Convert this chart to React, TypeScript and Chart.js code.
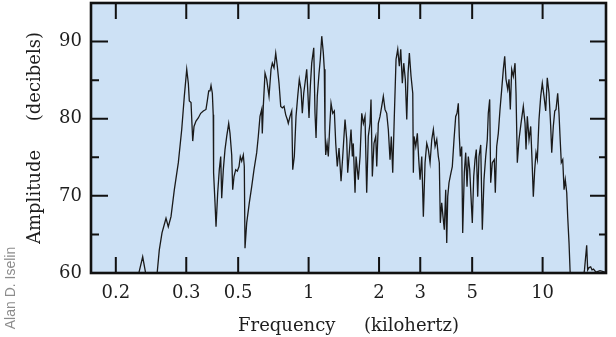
import { useEffect, useRef } from "react";
import { Chart, registerables } from "chart.js";

Chart.register(...registerables);

// Frequency (kHz) of each traced point
const frequencyKHz = [
  0.1848, 0.1954, 0.2039, 0.2142, 0.2228, 0.2301, 0.2363, 0.2458, 0.2514, 0.2582,
  0.2668, 0.2775, 0.2869, 0.2943, 0.3014, 0.3062, 0.3092, 0.3144, 0.3197, 0.3238,
  0.3302, 0.3377, 0.3458, 0.3548, 0.3643, 0.369, 0.3742, 0.379, 0.3828, 0.3878,
  0.3912, 0.3926, 0.3981, 0.4021, 0.4088, 0.4153, 0.4211, 0.4252, 0.432, 0.4392,
  0.4467, 0.4555, 0.4614, 0.4692, 0.4738, 0.4799, 0.4881, 0.4958, 0.5042, 0.5106,
  0.5177, 0.5259, 0.5311, 0.5348, 0.5438, 0.5579, 0.5712, 0.5843, 0.6, 0.6095,
  0.6198, 0.6303, 0.634, 0.6403, 0.6512, 0.6621, 0.6774, 0.6908, 0.6998, 0.7115,
  0.7236, 0.735, 0.7474, 0.7601, 0.7721, 0.7852, 0.7984, 0.811, 0.8189, 0.8328,
  0.8469, 0.8553, 0.8688, 0.8835, 0.8983, 0.9126, 0.9279, 0.9399, 0.953, 0.9652,
  0.9815, 0.9912, 1.004, 1.017, 1.031, 1.052, 1.065, 1.076, 1.089, 1.108,
  1.122, 1.138, 1.156, 1.167, 1.175, 1.183, 1.199, 1.214, 1.231, 1.247,
  1.268, 1.288, 1.306, 1.326, 1.349, 1.376, 1.399, 1.431, 1.455, 1.469,
  1.488, 1.518, 1.538, 1.552, 1.579, 1.595, 1.615, 1.631, 1.659, 1.687,
  1.714, 1.742, 1.771, 1.799, 1.83, 1.848, 1.872, 1.903, 1.936, 1.955,
  1.986, 2.019, 2.053, 2.086, 2.121, 2.157, 2.191, 2.228, 2.257, 2.288,
  2.324, 2.364, 2.404, 2.442, 2.476, 2.515, 2.55, 2.59, 2.627, 2.661,
  2.695, 2.74, 2.787, 2.803, 2.822, 2.87, 2.915, 2.956, 2.994, 3.045,
  3.093, 3.145, 3.198, 3.249, 3.304, 3.36, 3.413, 3.471, 3.529, 3.584,
  3.619, 3.655, 3.705, 3.753, 3.801, 3.854, 3.893, 3.931, 3.981, 4.06,
  4.112, 4.182, 4.252, 4.307, 4.363, 4.406, 4.449, 4.511, 4.555, 4.628,
  4.692, 4.753, 4.814, 4.881, 4.943, 5.007, 5.077, 5.142, 5.208, 5.28,
  5.348, 5.439, 5.525, 5.617, 5.712, 5.803, 5.86, 5.941, 6.0, 6.095,
  6.217, 6.279, 6.365, 6.467, 6.576, 6.687, 6.794, 6.887, 6.976, 7.094,
  7.185, 7.278, 7.378, 7.496, 7.623, 7.698, 7.797, 7.928, 8.086, 8.271,
  8.411, 8.495, 8.603, 8.749, 8.895, 9.01, 9.127, 9.252, 9.373, 9.494,
  9.652, 9.815, 9.97, 10.14, 10.31, 10.47, 10.65, 10.83, 10.94, 11.11,
  11.27, 11.41, 11.6, 11.75, 11.87, 12.02, 12.19, 12.35, 12.5, 12.68,
  12.8, 12.97, 13.1, 13.29, 14.45, 15.1, 15.43, 15.58, 15.79, 16.05,
  16.26, 16.5, 16.91, 17.59, 18.48,
];

// Amplitude (dB) of each traced point
const amplitudeDb = [
  59.0, 62.1, 59.0, 58.0, 58.4, 63.0, 65.2, 67.1, 66.0, 67.3,
  70.8, 74.3, 78.6, 82.9, 86.4, 84.6, 82.3, 82.1, 77.1, 79.0,
  79.7, 80.1, 80.7, 81.0, 81.2, 82.3, 83.6, 83.6, 84.3, 83.3,
  80.5, 73.0, 69.1, 66.0, 70.4, 73.4, 75.1, 69.7, 73.4, 76.0,
  77.7, 79.4, 78.1, 75.3, 70.8, 72.5, 73.4, 73.2, 73.8, 75.1,
  74.5, 75.3, 73.8, 63.2, 66.5, 69.1, 71.2, 73.4, 75.6, 77.7,
  80.3, 81.2, 78.1, 81.6, 85.9, 85.1, 82.9, 86.4, 87.2, 86.6,
  88.5, 86.8, 84.6, 81.6, 81.4, 81.6, 80.5, 79.9, 79.4, 80.3,
  81.0, 73.4, 75.1, 80.3, 82.9, 85.1, 83.8, 80.7, 83.3, 84.6,
  86.4, 83.8, 80.1, 84.2, 87.2, 89.2, 80.7, 77.5, 82.9, 85.9,
  87.7, 90.7, 88.5, 86.4, 78.6, 75.3, 76.8, 75.1, 79.0, 82.0,
  80.7, 81.0, 76.8, 73.8, 76.2, 71.9, 75.1, 79.9, 77.3, 73.0,
  75.1, 78.6, 75.1, 76.8, 70.4, 75.1, 73.4, 72.1, 75.1, 80.7,
  79.4, 80.3, 70.4, 77.7, 79.4, 82.5, 72.5, 76.8, 77.7, 73.8,
  79.4, 80.3, 81.6, 82.9, 81.2, 80.7, 78.6, 74.7, 77.7, 73.0,
  80.3, 87.7, 89.0, 86.8, 89.0, 84.6, 87.2, 85.1, 79.9, 85.9,
  88.5, 85.5, 83.3, 73.0, 77.7, 76.4, 78.1, 74.7, 72.1, 75.1,
  67.3, 74.3, 76.8, 76.0, 74.3, 77.3, 78.6, 76.4, 77.3, 75.1,
  74.3, 66.5, 69.1, 67.3, 65.6, 70.8, 63.9, 69.9, 71.7, 73.0,
  73.8, 77.3, 80.3, 80.7, 82.0, 77.7, 75.1, 76.4, 65.2, 73.0,
  75.6, 71.2, 75.1, 73.4, 69.9, 66.5, 72.5, 74.7, 76.0, 69.9,
  75.1, 76.6, 65.6, 72.1, 75.1, 77.3, 80.7, 82.5, 71.7, 74.3,
  74.7, 70.4, 76.4, 78.1, 81.2, 83.8, 86.4, 88.1, 85.1, 83.8,
  85.1, 81.2, 86.4, 85.5, 87.2, 83.3, 74.3, 77.3, 79.4, 81.6,
  79.4, 76.0, 80.3, 77.3, 79.0, 74.7, 69.9, 73.4, 75.6, 74.7,
  79.9, 82.9, 84.6, 82.9, 81.0, 85.3, 83.3, 79.0, 75.6, 79.0,
  81.0, 81.2, 83.3, 80.7, 77.7, 74.3, 74.7, 70.8, 72.1, 70.4,
  67.3, 63.9, 60.4, 56.5, 56.5, 60.4, 63.6, 60.4, 60.7, 60.8,
  60.4, 60.5, 60.1, 60.3, 60.1,
];

// Tick positions (as printed on the original figure) and their labels
const xTickValues = [0.15, 0.3, 0.5, 1, 2, 3, 5, 10];
const xTickLabels = ["0.2", "0.3", "0.5", "1", "2", "3", "5", "10"];
const yTickValues = [60, 70, 80, 90];
const yMajorMarks = [70, 80, 90];
const yMinorMarks = [65, 75, 85];

const X_MIN = 0.1175;
const X_MAX = 18.66;
const Y_MIN = 60;
const Y_MAX = 95;

export default function App() {
  const canvasRef = useRef<HTMLCanvasElement | null>(null);

  useEffect(() => {
    const canvas = canvasRef.current;
    if (!canvas) return;
    const serif = '"DejaVu Serif", "Liberation Serif", serif';
    const textColor = "#1e1e1e";

    const decor = {
      id: "decor",
      beforeDatasetsDraw(chart: any) {
        const { ctx, chartArea: a } = chart;
        ctx.save();
        ctx.fillStyle = "#cde1f5";
        ctx.fillRect(a.left, a.top, a.right - a.left, a.bottom - a.top);
        ctx.restore();
      },
      afterDatasetsDraw(chart: any) {
        const { ctx, chartArea: a, scales } = chart;
        const xs = scales.x;
        const ys = scales.y;
        ctx.save();
        ctx.strokeStyle = "#111";
        ctx.lineWidth = 2;
        ctx.beginPath();
        const mark = (v: number, len: number) => {
          const py = ys.getPixelForValue(v);
          ctx.moveTo(a.left, py);
          ctx.lineTo(a.left + len, py);
          ctx.moveTo(a.right, py);
          ctx.lineTo(a.right - (len - 1), py);
        };
        yMajorMarks.forEach((v) => mark(v, 17));
        yMinorMarks.forEach((v) => mark(v, 8));
        xTickValues.forEach((v) => {
          const px = xs.getPixelForValue(v);
          ctx.moveTo(px, a.bottom);
          ctx.lineTo(px, a.bottom - 16);
          ctx.moveTo(px, a.top);
          ctx.lineTo(px, a.top + 16);
        });
        ctx.stroke();
        ctx.lineWidth = 2.6;
        ctx.strokeRect(a.left, a.top, a.right - a.left, a.bottom - a.top);
        ctx.restore();
      },
      afterDraw(chart: any) {
        const { ctx } = chart;
        ctx.save();
        ctx.translate(15, 288);
        ctx.rotate(-Math.PI / 2);
        ctx.font = '14px "Liberation Sans", Arial, sans-serif';
        ctx.fillStyle = "#8c8c8c";
        ctx.textAlign = "center";
        ctx.textBaseline = "alphabetic";
        ctx.fillText("Alan D. Iselin", 0, 0);
        ctx.restore();
      },
    };

    const chart = new Chart(canvas, {
      type: "line",
      data: {
        datasets: [
          {
            data: frequencyKHz.map((f, i) => ({ x: f, y: amplitudeDb[i] })),
            borderColor: "#1a1a1a",
            borderWidth: 1.3,
            pointRadius: 0,
            tension: 0,
            clip: 0,
          } as any,
        ],
      },
      options: {
        animation: false,
        responsive: false,
        events: [],
        layout: { padding: { top: 3, right: 10, left: 0, bottom: 0 } },
        plugins: { legend: { display: false }, tooltip: { enabled: false } },
        scales: {
          x: {
            type: "logarithmic",
            min: X_MIN,
            max: X_MAX,
            grid: { display: false, drawTicks: false },
            border: { display: false },
            afterBuildTicks: (s: any) => {
              s.ticks = xTickValues.map((v) => ({ value: v }));
            },
            afterFit: (s: any) => {
              s.height = 64;
              s.paddingLeft = 0;
              s.paddingRight = 0;
              s.paddingTop = 0;
              s.paddingBottom = 0;
            },
            ticks: {
              autoSkip: false,
              maxRotation: 0,
              padding: 10,
              color: textColor,
              font: { family: serif, size: 18 },
              callback: (_v: any, i: number) => xTickLabels[i],
            },
            title: {
              display: true,
              text: "Frequency     (kilohertz)",
              color: textColor,
              font: { family: serif, size: 18 },
              padding: 0,
            },
          },
          y: {
            type: "linear",
            min: Y_MIN,
            max: Y_MAX,
            grid: { display: false, drawTicks: false },
            border: { display: false },
            afterBuildTicks: (s: any) => {
              s.ticks = yTickValues.map((v) => ({ value: v }));
            },
            afterFit: (s: any) => {
              s.width = 91;
              s.paddingLeft = 0;
              s.paddingRight = 0;
              s.paddingTop = 0;
              s.paddingBottom = 0;
            },
            ticks: {
              padding: 9,
              color: textColor,
              font: { family: serif, size: 18 },
            },
            title: {
              display: true,
              text: "Amplitude     (decibels)",
              color: textColor,
              font: { family: serif, size: 18 },
              padding: { top: 25, bottom: 0 },
            },
          },
        },
      } as any,
      plugins: [decor],
    });

    return () => chart.destroy();
  }, []);

  return (
    <div
      style={{
        position: "fixed",
        left: 0,
        top: 0,
        width: 616,
        height: 337,
        background: "#ffffff",
      }}
    >
      <canvas
        ref={canvasRef}
        width={616}
        height={337}
        style={{ width: 616, height: 337, display: "block" }}
      />
    </div>
  );
}
